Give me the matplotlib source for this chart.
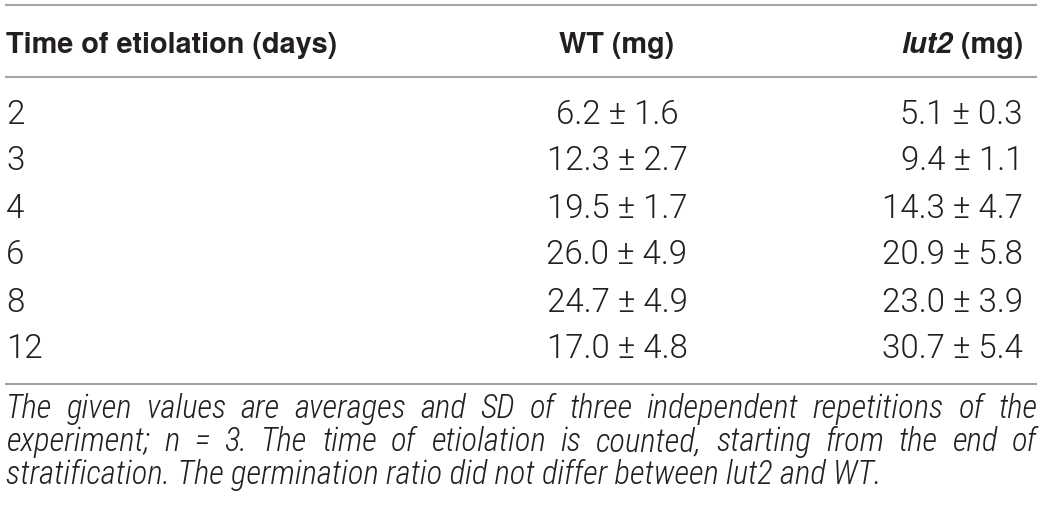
import matplotlib
matplotlib.use("Agg")
import matplotlib.pyplot as plt

# table contents
col_headers = ["Time of etiolation (days)", "WT (mg)", "lut2", " (mg)"]
days = [2, 3, 4, 6, 8, 12]
wt_mean = [6.2, 12.3, 19.5, 26.0, 24.7, 17.0]
wt_sd = [1.6, 2.7, 1.7, 4.9, 4.9, 4.8]
lut2_mean = [5.1, 9.4, 14.3, 20.9, 23.0, 30.7]
lut2_sd = [0.3, 1.1, 4.7, 5.8, 3.9, 5.4]
foot_lines = [
    "The given values are averages and SD of three independent repetitions of the",
    "experiment; n = 3. The time of etiolation is counted, starting from the end of",
    "stratification. The germination ratio did not differ between lut2 and WT.",
]

W, H = 1042, 508
fig = plt.figure(figsize=(W / 100, H / 100), dpi=100)
ax = fig.add_axes([0, 0, 1, 1])
ax.set_xlim(0, W)
ax.set_ylim(H, 0)
ax.axis("off")
r = fig.canvas.get_renderer()

txt = "#231f20"
rule = "#a3a3a3"
head_fp = dict(family=["TeX Gyre Heros", "Liberation Sans"], fontweight="bold")
body_fp = dict(family=["Roboto", "Liberation Sans"], fontweight=300)
foot_fp = dict(family=["Roboto Condensed", "Roboto", "Liberation Sans"], fontweight=300,
               fontstyle="italic")


def width_of(s, size, props):
    t = ax.text(0, 0, s, fontsize=size, **props)
    w = t.get_window_extent(r).width
    t.remove()
    return w


def fit(s, target, props):
    # font size that makes s about target pixels wide
    return 20 * target / width_of(s, 20, props)


hsize = fit(col_headers[0], 332, head_fp)
bsize = fit("6.2 \u00b1 1.6", 122, body_fp)
fsize = fit(foot_lines[2], 875, foot_fp)

x0, x1 = 5, 1037
for y in (5, 77, 384):
    ax.plot([x0, x1], [y, y], color=rule, lw=1.5, solid_capstyle="butt")

# header
hy = 53
ax.text(6, hy, col_headers[0], ha="left", va="baseline", fontsize=hsize, color=txt, **head_fp)
ax.text(617, hy, col_headers[1], ha="center", va="baseline", fontsize=hsize, color=txt, **head_fp)
right = 1023
t_unit = ax.text(right, hy, col_headers[3], ha="right", va="baseline", fontsize=hsize,
                 color=txt, **head_fp)
unit_w = t_unit.get_window_extent(r).width
ax.text(right - unit_w, hy, col_headers[2], ha="right", va="baseline", fontsize=hsize,
        color=txt, fontstyle="italic", family=head_fp["family"], fontweight="bold")

# body rows
row_y = [123.5, 170.5, 217.5, 264.5, 311.5, 358.5]
for i, y in enumerate(row_y):
    ax.text(6, y, str(days[i]), ha="left", va="baseline", fontsize=bsize, color=txt, **body_fp)
    ax.text(617, y, f"{wt_mean[i]:.1f} \u00b1 {wt_sd[i]:.1f}", ha="center", va="baseline",
            fontsize=bsize, color=txt, **body_fp)
    ax.text(right, y, f"{lut2_mean[i]:.1f} \u00b1 {lut2_sd[i]:.1f}", ha="right", va="baseline",
            fontsize=bsize, color=txt, **body_fp)

# justified italic footnote
foot_y = [418, 451, 484]
for j, line in enumerate(foot_lines):
    if j == len(foot_lines) - 1:
        ax.text(6, foot_y[j], line, ha="left", va="baseline", fontsize=fsize, color=txt, **foot_fp)
        continue
    words = line.split(" ")
    arts = [ax.text(0, foot_y[j], w, ha="left", va="baseline", fontsize=fsize, color=txt, **foot_fp)
            for w in words]
    widths = [a.get_window_extent(r).width for a in arts]
    gap = (x1 - 6 - sum(widths)) / (len(words) - 1)
    x = 6
    for a, wd in zip(arts, widths):
        a.set_x(x)
        x += wd + gap

fig.savefig("out.png", dpi=100, facecolor="white")
